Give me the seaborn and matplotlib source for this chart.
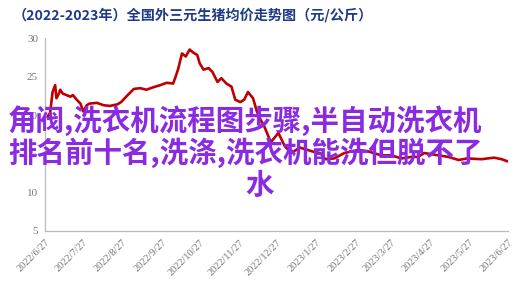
import matplotlib
matplotlib.use("Agg")
import matplotlib.pyplot as plt
import seaborn as sns
import pandas as pd

title = "（2022-2023年）全国外三元生猪均价走势图（元/公斤）"
overlay_lines = ["角阀,洗衣机流程图步骤,半自动洗衣机", "排名前十名,洗涤,洗衣机能洗但脱不了", "水"]

dates = [
    "2022-06-29", "2022-07-01", "2022-07-03", "2022-07-05", "2022-07-06", "2022-07-08",
    "2022-07-09", "2022-07-11", "2022-07-14", "2022-07-17", "2022-07-19", "2022-07-22",
    "2022-07-25", "2022-07-27", "2022-07-30", "2022-08-01", "2022-08-07", "2022-08-12",
    "2022-08-17", "2022-08-23", "2022-08-26", "2022-08-30", "2022-09-05", "2022-09-10",
    "2022-09-15", "2022-09-20", "2022-09-26", "2022-10-01", "2022-10-06", "2022-10-08",
    "2022-10-10", "2022-10-13", "2022-10-16", "2022-10-19", "2022-10-22", "2022-10-25",
    "2022-10-27", "2022-10-30", "2022-11-03", "2022-11-06", "2022-11-10", "2022-11-13",
    "2022-11-17", "2022-11-21", "2022-11-24", "2022-11-28", "2022-12-01", "2022-12-04",
    "2022-12-08", "2022-12-11", "2022-12-14", "2022-12-17", "2022-12-22", "2022-12-28",
    "2023-01-02", "2023-01-07", "2023-01-14", "2023-01-20", "2023-01-24", "2023-01-30",
    "2023-02-03", "2023-02-10", "2023-02-18", "2023-03-01", "2023-03-09", "2023-03-19",
    "2023-03-27", "2023-04-04", "2023-04-12", "2023-04-17", "2023-04-22", "2023-05-03",
    "2023-05-11", "2023-05-19", "2023-05-26", "2023-06-06", "2023-06-16", "2023-06-22",
    "2023-06-27",
]
prices = [
    19.8, 20.3, 23.0, 23.9, 22.2, 22.8,
    23.3, 22.8, 22.6, 22.4, 22.6, 22.0,
    21.5, 20.5, 21.3, 21.5, 21.6, 21.3,
    21.2, 21.4, 21.7, 22.4, 23.4, 23.5,
    23.3, 23.6, 23.9, 24.2, 24.1, 25.0,
    26.0, 28.0, 27.6, 28.5, 28.1, 27.8,
    26.7, 25.9, 26.1, 25.6, 24.3, 24.8,
    24.1, 23.7, 22.0, 21.7, 22.0, 23.0,
    22.2, 20.5, 19.4, 18.5, 16.5, 17.7,
    16.0, 15.1, 15.8, 15.5, 15.3, 15.1,
    14.3, 14.4, 15.1, 15.5, 15.3, 14.8,
    14.8, 14.4, 14.6, 14.6, 15.1, 14.8,
    14.6, 14.2, 14.4, 14.3, 14.5, 14.3,
    14.0,
]
tick_dates = ["2022-06-27", "2022-07-27", "2022-08-27", "2022-09-27", "2022-10-27",
              "2022-11-27", "2022-12-27", "2023-01-27", "2023-02-27", "2023-03-27",
              "2023-04-27", "2023-05-27", "2023-06-27"]
y_ticks = [5, 10, 15, 20, 25, 30]

sns.set_style("white")
plt.rcParams['font.family'] = ['Noto Sans CJK SC', 'DejaVu Sans']

df = pd.DataFrame({"date": pd.to_datetime(dates), "price": prices})

fig = plt.figure(figsize=(5.18, 2.95), dpi=100)
ax = fig.add_axes([45/518, 1-231/295, (508-45)/518, (231-38)/295])
sns.lineplot(data=df, x="date", y="price", ax=ax, color="#BE0000", linewidth=1.9)

ax.set_xlim(pd.Timestamp(tick_dates[0]), pd.Timestamp(tick_dates[-1]))
ax.set_ylim(5, 30)
ax.set_yticks(y_ticks)
ax.set_yticklabels([str(v) for v in y_ticks], family="Liberation Serif", fontsize=8, color="#777777")
tds = pd.to_datetime(tick_dates)
ax.set_xticks(tds)
ax.set_xticklabels([f"{d.year}/{d.month}/{d.day}" for d in tds], rotation=45, ha="right",
                   rotation_mode="anchor", family="Liberation Serif", fontsize=7.5, color="#777777")
ax.set_xlabel("")
ax.set_ylabel("")
for s in ["top", "right"]:
    ax.spines[s].set_visible(False)
for s in ["left", "bottom"]:
    ax.spines[s].set_color("#BBBBBB")
    ax.spines[s].set_linewidth(0.9)
ax.tick_params(axis="both", which="both", direction="out", length=3, width=0.9, color="#BBBBBB", pad=2)

fig.text(13/518, 1-15/295, title, fontsize=10.2, fontweight="bold", color="#1F3A88",
         ha="left", va="center")

purple = "#8A2BE2"
fig.text(245/518, 1-121/295, overlay_lines[0], fontsize=20.5, color=purple, ha="center", va="center", fontweight="bold")
fig.text(245/518, 1-153/295, overlay_lines[1], fontsize=20.5, color=purple, ha="center", va="center", fontweight="bold")
fig.text(260/518, 1-186/295, overlay_lines[2], fontsize=20.5, color=purple, ha="center", va="center", fontweight="bold")

fig.savefig("out.png", dpi=100)
